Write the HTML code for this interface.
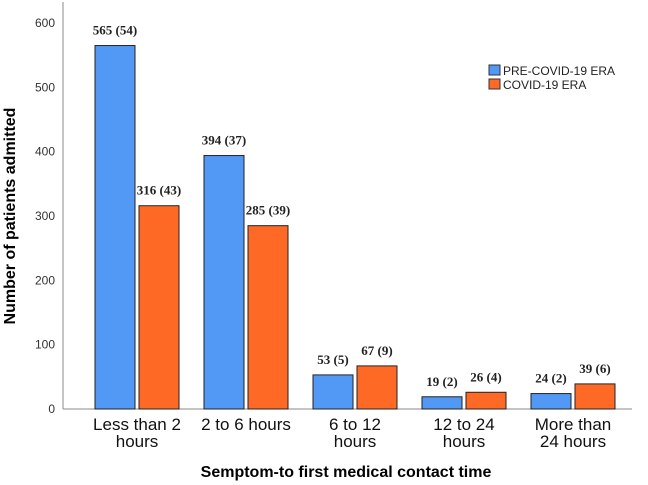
<!DOCTYPE html>
<html><head><meta charset="utf-8"><style>
body{margin:0;background:#fff;}
svg{display:block;font-family:"Liberation Sans",Arial,sans-serif;}
</style></head><body>
<svg id="chart" width="648" height="485">
<g id="axes"></g><g id="bars"></g><g id="labels"></g>
<text x="15" y="216" transform="rotate(-90 15 216)" text-anchor="middle" font-size="16" font-weight="bold">Number of patients admitted</text>
<text x="346" y="477" text-anchor="middle" font-size="16" font-weight="bold">Semptom-to first medical contact time</text>
<g>
<rect x="489" y="65" width="11" height="10" fill="#5199f5" stroke="#333"/>
<text x="503" y="75" font-size="12" fill="#222">PRE-COVID-19 ERA</text>
<rect x="489" y="79" width="11" height="10" fill="#fe6a26" stroke="#333"/>
<text x="503" y="89" font-size="12" fill="#222">COVID-19 ERA</text>
</g>
</svg>
<script>
const categories=[["Less than 2","hours"],["2 to 6 hours"],["6 to 12","hours"],["12 to 24","hours"],["More than","24 hours"]];
const preCovid=[565,394,53,19,24];
const covid=[316,285,67,26,39];
const prePct=[54,37,5,2,2];
const covidPct=[43,39,9,4,6];
const yTicks=[0,100,200,300,400,500,600];
const NS="http://www.w3.org/2000/svg";
const x0=63,y0=409,ppu=0.6433,step=109,c0=137,bw=40,gap=4;
const y=v=>y0-v*ppu;
const xc=i=>c0+i*step;
function mk(t,a,p){const e=document.createElementNS(NS,t);for(const k in a)e.setAttribute(k,a[k]);p.appendChild(e);return e;}
const ax=document.getElementById('axes'),bg=document.getElementById('bars'),lg=document.getElementById('labels');
let l=mk('line',{x1:x0,y1:2,x2:x0,y2:y0,stroke:'#888','stroke-width':1},ax);


l=mk('line',{x1:x0,y1:y0,x2:632,y2:y0,stroke:'#888','stroke-width':1},ax);


yTicks.forEach(v=>{const t=mk('text',{x:x0-8,y:y(v)+4,'text-anchor':'end','font-size':12,fill:'#333'},ax);t.textContent=v;

});
categories.forEach((c,i)=>{
  const series=[[preCovid[i],prePct[i],'#5199f5',xc(i)-gap/2-bw,'pre'],[covid[i],covidPct[i],'#fe6a26',xc(i)+gap/2,'covid']];
  series.forEach(s=>{
    const r=mk('rect',{x:s[3],y:y(s[0]),width:bw,height:s[0]*ppu,fill:s[2],stroke:'#222','stroke-width':1},bg);
    
    
    const t=mk('text',{x:s[3]+bw/2,y:y(s[0])-11,'text-anchor':'middle','font-size':13,'font-weight':'bold','font-family':'"Liberation Serif",serif',fill:'#222'},lg);
    t.textContent=s[0]+' ('+s[1]+')';
    
    
  });
  c.forEach((ln,j)=>{const t=mk('text',{x:xc(i),y:430+j*17,'text-anchor':'middle','font-size':17,fill:'#111'},ax);t.textContent=ln;
  
  });
});
</script>
</body></html>
